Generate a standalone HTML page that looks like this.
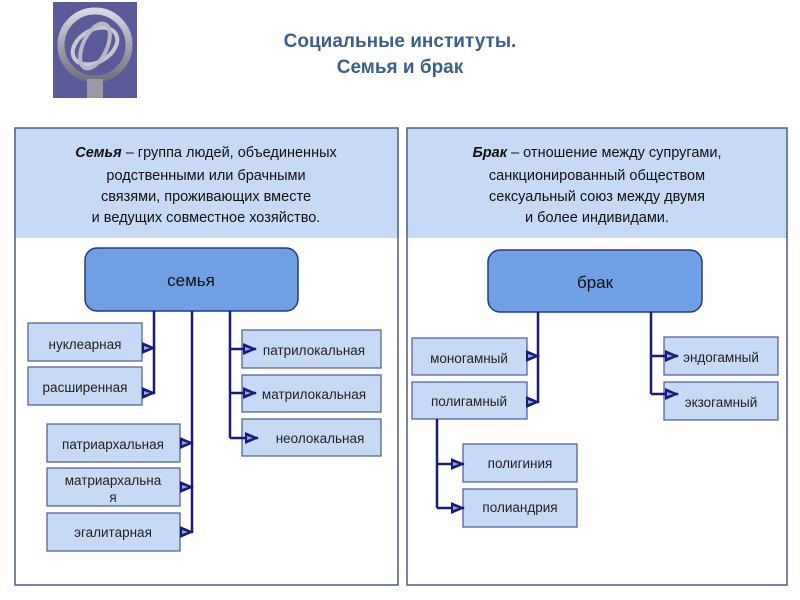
<!DOCTYPE html>
<html><head><meta charset="utf-8"><style>
body{margin:0;background:#fff;}
svg{display:block;font-family:"Liberation Sans",Arial,sans-serif;}
</style></head><body>
<svg width="800" height="600" viewBox="0 0 800 600">
<defs>
<marker id="a" markerWidth="14" markerHeight="12" refX="13" refY="6" orient="auto" markerUnits="userSpaceOnUse">
<path d="M0,0 L14,6 L0,12 Z" fill="#1a1a7a"/><path d="M2,4 L8,6 L2,8Z" fill="#8fa8e0"/>
</marker>
<linearGradient id="g" x1="0" y1="0" x2="0" y2="1"><stop offset="0" stop-color="#d8d8e0"/><stop offset="1" stop-color="#707080"/></linearGradient>
</defs>
<rect x="53" y="2" width="84" height="96" fill="#5b5b9a"/>
<circle cx="95" cy="45" r="34" fill="none" stroke="url(#g)" stroke-width="7"/>
<ellipse cx="95" cy="46" rx="24" ry="16" fill="none" stroke="#c8c8d0" stroke-width="4" transform="rotate(-30 95 46)"/>
<ellipse cx="95" cy="46" rx="12" ry="24" fill="none" stroke="#b8b8c4" stroke-width="4" transform="rotate(25 95 46)"/>
<rect x="87" y="79" width="16" height="19" fill="#9a9aa6"/>
<text x="400" y="47" text-anchor="middle" font-size="19" font-weight="bold" fill="#3b5f8f">Социальные институты.</text>
<text x="400" y="73" text-anchor="middle" font-size="19" font-weight="bold" fill="#3b5f8f">Семья и брак</text>
<rect x="15" y="128" width="383" height="110" fill="#c6d9f5"/>
<rect x="407" y="128" width="380" height="110" fill="#c6d9f5"/>
<rect x="15" y="128" width="383" height="457" fill="none" stroke="#4a5a8a" stroke-width="1.5"/>
<rect x="407" y="128" width="380" height="457" fill="none" stroke="#4a5a8a" stroke-width="1.5"/>
<g font-size="14.5" fill="#111" text-anchor="middle">
<text x="206" y="157"><tspan font-weight="bold" font-style="italic">Семья</tspan> – группа людей, объединенных</text>
<text x="206" y="180">родственными или брачными</text>
<text x="206" y="201">связями, проживающих вместе</text>
<text x="206" y="222">и ведущих совместное хозяйство.</text>
<text x="597" y="157"><tspan font-weight="bold" font-style="italic">Брак</tspan> – отношение между супругами,</text>
<text x="597" y="180">санкционированный обществом</text>
<text x="597" y="201">сексуальный союз между двумя</text>
<text x="597" y="222">и более индивидами.</text>
</g>
<rect x="85" y="248" width="213" height="63" rx="12" fill="#6fa0e3" stroke="#223a8a" stroke-width="1.5"/>
<text x="191" y="286" text-anchor="middle" font-size="17" fill="#111">семья</text>
<rect x="488" y="250" width="214" height="62" rx="12" fill="#6fa0e3" stroke="#223a8a" stroke-width="1.5"/>
<text x="595" y="288" text-anchor="middle" font-size="17" fill="#111">брак</text>
<g fill="#c6d9f5" stroke="#4a5a9a" stroke-width="1.2">
<rect x="28" y="323" width="114" height="38"/><rect x="28" y="367" width="114" height="38"/>
<rect x="47" y="424" width="133" height="38"/><rect x="47" y="468" width="133" height="38"/><rect x="47" y="513" width="133" height="38"/>
<rect x="242" y="330" width="139" height="38"/><rect x="242" y="375" width="139" height="37"/><rect x="242" y="419" width="139" height="37"/>
<rect x="412" y="338" width="115" height="37"/><rect x="412" y="382" width="115" height="37"/>
<rect x="664" y="337" width="114" height="38"/><rect x="664" y="382" width="114" height="38"/>
<rect x="463" y="444" width="114" height="38"/><rect x="463" y="489" width="114" height="38"/>
</g>
<g stroke="#1a1a7a" stroke-width="2.5" fill="none">
<path d="M154,311 V393"/><path d="M142,348 H155" marker-end="url(#a)"/><path d="M142,393 H155" marker-end="url(#a)"/>
<path d="M192,311 V532"/><path d="M180,443 H193" marker-end="url(#a)"/><path d="M180,487 H193" marker-end="url(#a)"/><path d="M180,532 H193" marker-end="url(#a)"/>
<path d="M230,311 V438"/><path d="M230,349 H256" marker-end="url(#a)"/><path d="M230,393 H256" marker-end="url(#a)"/><path d="M230,438 H258" marker-end="url(#a)"/>
<path d="M538,312 V402"/><path d="M527,356 H539" marker-end="url(#a)"/><path d="M527,402 H539" marker-end="url(#a)"/>
<path d="M651,312 V394"/><path d="M651,356 H678" marker-end="url(#a)"/><path d="M651,394 H678" marker-end="url(#a)"/>
<path d="M437,419 V508"/><path d="M437,464 H464" marker-end="url(#a)"/><path d="M437,508 H464" marker-end="url(#a)"/>
</g>
<g font-size="13.5" fill="#222" text-anchor="middle">
<text x="85" y="349">нуклеарная</text><text x="85" y="392">расширенная</text>
<text x="113" y="449">патриархальная</text>
<text x="113" y="485">матриархальна</text><text x="113" y="502">я</text>
<text x="113" y="537">эгалитарная</text>
<text x="314" y="355">патрилокальная</text><text x="314" y="399">матрилокальная</text><text x="320" y="443">неолокальная</text>
<text x="469" y="363">моногамный</text><text x="469" y="406">полигамный</text>
<text x="721" y="362">эндогамный</text><text x="721" y="407">экзогамный</text>
<text x="520" y="468">полигиния</text><text x="520" y="512">полиандрия</text>
</g>
</svg>
</body></html>
